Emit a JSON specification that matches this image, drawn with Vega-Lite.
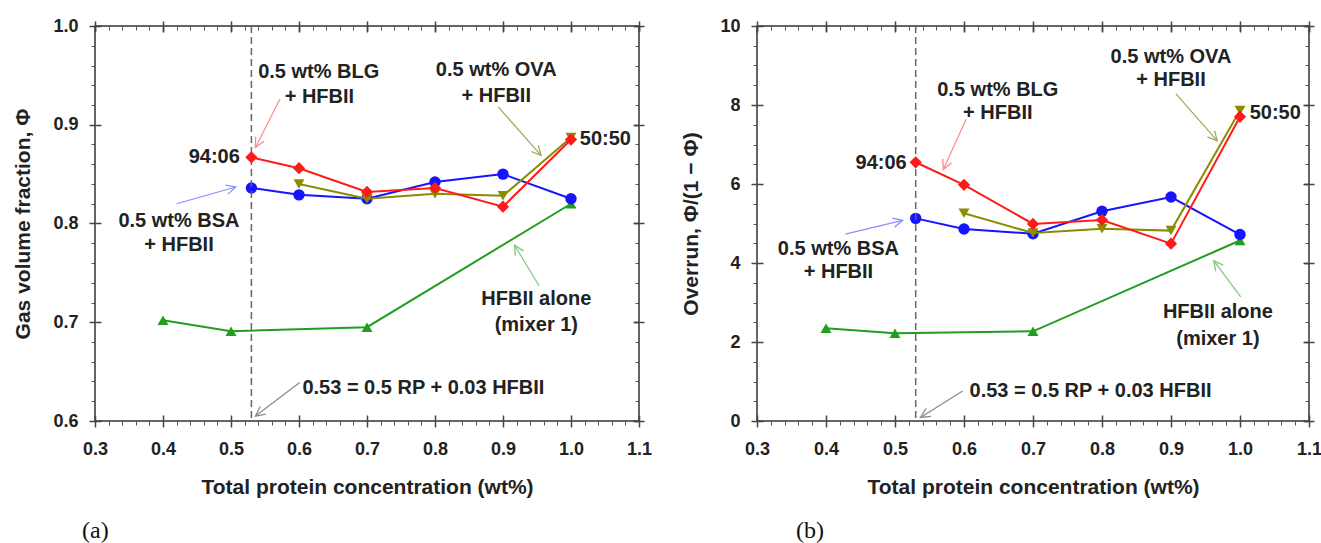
{
  "$schema": "https://vega.github.io/schema/vega-lite/v6.json",
  "padding": {"left": 12, "top": 16, "right": 0, "bottom": 0},
  "spacing": 27,
  "config": {"view": {"stroke": "#333", "strokeWidth": 1.5}, "axis": {"grid": false}},
  "datasets": {
    "guide": [{"c": 0.53}],
    "phi": [
      {"s": "HFBII", "c": 0.4, "v": 0.702}, {"s": "HFBII", "c": 0.5, "v": 0.691}, {"s": "HFBII", "c": 0.7, "v": 0.695}, {"s": "HFBII", "c": 1.0, "v": 0.820},
      {"s": "BSA", "c": 0.53, "v": 0.836}, {"s": "BSA", "c": 0.6, "v": 0.829}, {"s": "BSA", "c": 0.7, "v": 0.825}, {"s": "BSA", "c": 0.8, "v": 0.842}, {"s": "BSA", "c": 0.9, "v": 0.850}, {"s": "BSA", "c": 1.0, "v": 0.825},
      {"s": "OVA", "c": 0.6, "v": 0.840}, {"s": "OVA", "c": 0.7, "v": 0.825}, {"s": "OVA", "c": 0.8, "v": 0.830}, {"s": "OVA", "c": 0.9, "v": 0.828}, {"s": "OVA", "c": 1.0, "v": 0.887},
      {"s": "BLG", "c": 0.53, "v": 0.867}, {"s": "BLG", "c": 0.6, "v": 0.856}, {"s": "BLG", "c": 0.7, "v": 0.832}, {"s": "BLG", "c": 0.8, "v": 0.836}, {"s": "BLG", "c": 0.9, "v": 0.817}, {"s": "BLG", "c": 1.0, "v": 0.885}
    ],
    "ovr": [
      {"s": "HFBII", "c": 0.4, "v": 2.35}, {"s": "HFBII", "c": 0.5, "v": 2.22}, {"s": "HFBII", "c": 0.7, "v": 2.27}, {"s": "HFBII", "c": 1.0, "v": 4.57},
      {"s": "BSA", "c": 0.53, "v": 5.13}, {"s": "BSA", "c": 0.6, "v": 4.86}, {"s": "BSA", "c": 0.7, "v": 4.74}, {"s": "BSA", "c": 0.8, "v": 5.31}, {"s": "BSA", "c": 0.9, "v": 5.67}, {"s": "BSA", "c": 1.0, "v": 4.72},
      {"s": "OVA", "c": 0.6, "v": 5.26}, {"s": "OVA", "c": 0.7, "v": 4.76}, {"s": "OVA", "c": 0.8, "v": 4.87}, {"s": "OVA", "c": 0.9, "v": 4.82}, {"s": "OVA", "c": 1.0, "v": 7.86},
      {"s": "BLG", "c": 0.53, "v": 6.55}, {"s": "BLG", "c": 0.6, "v": 5.98}, {"s": "BLG", "c": 0.7, "v": 4.99}, {"s": "BLG", "c": 0.8, "v": 5.09}, {"s": "BLG", "c": 0.9, "v": 4.49}, {"s": "BLG", "c": 1.0, "v": 7.70}
    ],
    "notesPhi": [
      {"t": "0.5 wt% BLG", "x": 0.629, "y": 0.953, "pos": "c"},
      {"t": "+ HFBII", "x": 0.630, "y": 0.928, "pos": "c"},
      {"t": "0.5 wt% OVA", "x": 0.890, "y": 0.955, "pos": "c"},
      {"t": "+ HFBII", "x": 0.890, "y": 0.929, "pos": "c"},
      {"t": "0.5 wt% BSA", "x": 0.4235, "y": 0.803, "pos": "c"},
      {"t": "+ HFBII", "x": 0.4235, "y": 0.778, "pos": "c"},
      {"t": "HFBII alone", "x": 0.949, "y": 0.724, "pos": "c"},
      {"t": "(mixer 1)", "x": 0.949, "y": 0.697, "pos": "c"},
      {"t": "94:06", "x": 0.513, "y": 0.867, "pos": "r"},
      {"t": "50:50", "x": 1.013, "y": 0.886, "pos": "l"},
      {"t": "0.53 = 0.5 RP + 0.03 HFBII", "x": 0.605, "y": 0.633, "pos": "l"}
    ],
    "notesOvr": [
      {"t": "0.5 wt% BLG", "x": 0.649, "y": 8.37, "pos": "c"},
      {"t": "+ HFBII", "x": 0.649, "y": 7.81, "pos": "c"},
      {"t": "0.5 wt% OVA", "x": 0.900, "y": 9.22, "pos": "c"},
      {"t": "+ HFBII", "x": 0.900, "y": 8.63, "pos": "c"},
      {"t": "0.5 wt% BSA", "x": 0.418, "y": 4.35, "pos": "c"},
      {"t": "+ HFBII", "x": 0.418, "y": 3.76, "pos": "c"},
      {"t": "HFBII alone", "x": 0.968, "y": 2.76, "pos": "c"},
      {"t": "(mixer 1)", "x": 0.968, "y": 2.08, "pos": "c"},
      {"t": "94:06", "x": 0.517, "y": 6.54, "pos": "r"},
      {"t": "50:50", "x": 1.014, "y": 7.81, "pos": "l"},
      {"t": "0.53 = 0.5 RP + 0.03 HFBII", "x": 0.608, "y": 0.76, "pos": "l"}
    ],
    "arrowsPhi": [
      {"s": "BLG", "x": 0.572, "y": 0.926, "x2": 0.536, "y2": 0.877, "a": 117},
      {"s": "BSA", "x": 0.420, "y": 0.820, "x2": 0.507, "y2": 0.837, "a": -16},
      {"s": "OVA", "x": 0.893, "y": 0.918, "x2": 0.956, "y2": 0.869, "a": 48},
      {"s": "HFBII", "x": 0.953, "y": 0.737, "x2": 0.917, "y2": 0.778, "a": -121},
      {"s": "RP", "x": 0.601, "y": 0.639, "x2": 0.536, "y2": 0.605, "a": 143}
    ],
    "arrowsOvr": [
      {"s": "BLG", "x": 0.603, "y": 7.64, "x2": 0.570, "y2": 6.37, "a": 114},
      {"s": "BSA", "x": 0.428, "y": 4.73, "x2": 0.511, "y2": 5.08, "a": -14},
      {"s": "OVA", "x": 0.907, "y": 8.29, "x2": 0.967, "y2": 7.09, "a": 49},
      {"s": "HFBII", "x": 1.001, "y": 3.14, "x2": 0.962, "y2": 4.06, "a": -127},
      {"s": "RP", "x": 0.598, "y": 0.76, "x2": 0.537, "y2": 0.09, "a": 148}
    ]
  },
  "hconcat": [
    {
      "width": 544,
      "height": 395,
      "title": {"text": "(a)", "orient": "bottom", "anchor": "start", "frame": "group", "font": "Liberation Serif", "fontSize": 24, "fontWeight": "normal", "color": "#111", "dx": -13, "offset": 22},
      "resolve": {"axis": {"x": "independent", "y": "independent"}},
      "layer": [
        {
          "data": {"name": "phi"},
          "transform": [{"filter": "datum.s === 'HFBII'"}],
          "mark": {"type": "line", "color": "#1f9e1f", "strokeWidth": 2},
          "encoding": {
            "x": {"field": "c", "type": "quantitative", "scale": {"domain": [0.3, 1.1], "nice": false, "zero": false},
              "axis": {"orient": "bottom", "values": [0.3, 0.4, 0.5, 0.6, 0.7, 0.8, 0.9, 1.0, 1.1], "format": ".1f", "labelFont": "Liberation Sans", "labelFontWeight": "bold", "labelFontSize": 18, "labelColor": "#222", "labelPadding": 13, "labelFlush": false, "labelOverlap": false, "tickSize": 6, "tickColor": "#444", "tickWidth": 1.5, "domain": false, "grid": true, "gridColor": "#444", "gridWidth": 1.5, "gridDash": [6, 383, 6], "title": "Total protein concentration (wt%)", "titleFont": "Liberation Sans", "titleFontWeight": "bold", "titleFontSize": 21, "titleColor": "#222", "titlePadding": 18}},
            "y": {"field": "v", "type": "quantitative", "scale": {"domain": [0.6, 1.0], "nice": false, "zero": false},
              "axis": {"orient": "left", "values": [0.6, 0.7, 0.8, 0.9, 1.0], "format": ".1f", "labelFont": "Liberation Sans", "labelFontWeight": "bold", "labelFontSize": 18, "labelColor": "#222", "labelPadding": 11, "labelFlush": false, "labelOverlap": false, "tickSize": 6, "tickColor": "#444", "tickWidth": 1.5, "domain": false, "grid": true, "gridColor": "#444", "gridWidth": 1.5, "gridDash": [6, 532, 6], "title": "Gas volume fraction, Φ", "titleFont": "Liberation Sans", "titleFontWeight": "bold", "titleFontSize": 21, "titleColor": "#222", "titlePadding": 19}}
          }
        },
        {
          "data": {"name": "phi"},
          "transform": [{"filter": "datum.s === 'HFBII'"}],
          "mark": {"type": "point", "shape": "triangle-up", "filled": true, "opacity": 1, "color": "#1f9e1f", "size": 120},
          "encoding": {
            "x": {"field": "c", "type": "quantitative", "axis": {"orient": "bottom", "values": [0.32,0.34,0.36,0.38,0.42,0.44,0.46,0.48,0.52,0.54,0.56,0.58,0.62,0.64,0.66,0.68,0.72,0.74,0.76,0.78,0.82,0.84,0.86,0.88,0.92,0.94,0.96,0.98,1.02,1.04,1.06,1.08], "labels": false, "domain": false, "tickSize": 4, "tickColor": "#555", "title": null}},
            "y": {"field": "v", "type": "quantitative", "axis": {"orient": "left", "values": [0.62,0.64,0.66,0.68,0.72,0.74,0.76,0.78,0.82,0.84,0.86,0.88,0.92,0.94,0.96,0.98], "labels": false, "domain": false, "tickSize": 4, "tickColor": "#555", "title": null}}
          }
        },
        {
          "data": {"name": "phi"},
          "transform": [{"filter": "datum.s === 'BSA'"}],
          "mark": {"type": "line", "color": "#1515ff", "strokeWidth": 2},
          "encoding": {
            "x": {"field": "c", "type": "quantitative", "axis": {"orient": "top", "values": [0.3, 0.4, 0.5, 0.6, 0.7, 0.8, 0.9, 1.0, 1.1], "labels": false, "domain": false, "tickSize": 10, "offset": -5, "tickColor": "#444", "tickWidth": 1.5, "title": null}},
            "y": {"field": "v", "type": "quantitative", "axis": {"orient": "right", "values": [0.6, 0.7, 0.8, 0.9, 1.0], "labels": false, "domain": false, "tickSize": 10, "offset": -5, "tickColor": "#444", "tickWidth": 1.5, "title": null}}
          }
        },
        {
          "data": {"name": "phi"},
          "transform": [{"filter": "datum.s === 'BSA'"}],
          "mark": {"type": "point", "shape": "circle", "filled": true, "opacity": 1, "color": "#1515ff", "size": 130},
          "encoding": {
            "x": {"field": "c", "type": "quantitative", "axis": {"orient": "top", "values": [0.32,0.34,0.36,0.38,0.42,0.44,0.46,0.48,0.52,0.54,0.56,0.58,0.62,0.64,0.66,0.68,0.72,0.74,0.76,0.78,0.82,0.84,0.86,0.88,0.92,0.94,0.96,0.98,1.02,1.04,1.06,1.08], "labels": false, "domain": false, "tickSize": 4, "offset": -4, "tickColor": "#555", "title": null}},
            "y": {"field": "v", "type": "quantitative", "axis": {"orient": "right", "values": [0.62,0.64,0.66,0.68,0.72,0.74,0.76,0.78,0.82,0.84,0.86,0.88,0.92,0.94,0.96,0.98], "labels": false, "domain": false, "tickSize": 4, "offset": -4, "tickColor": "#555", "title": null}}
          }
        },
        {
          "data": {"name": "guide"},
          "mark": {"type": "rule", "color": "#666", "strokeWidth": 1.5, "strokeDash": [7, 4]},
          "encoding": {"x": {"field": "c", "type": "quantitative", "axis": null}}
        },
        {
          "data": {"name": "phi"},
          "transform": [{"filter": "datum.s === 'OVA'"}],
          "mark": {"type": "line", "color": "#8c8c00", "strokeWidth": 2},
          "encoding": {"x": {"field": "c", "type": "quantitative", "axis": null}, "y": {"field": "v", "type": "quantitative", "axis": null}}
        },
        {
          "data": {"name": "phi"},
          "transform": [{"filter": "datum.s === 'OVA'"}],
          "mark": {"type": "point", "shape": "triangle-down", "filled": true, "opacity": 1, "color": "#8c8c00", "size": 120},
          "encoding": {"x": {"field": "c", "type": "quantitative", "axis": null}, "y": {"field": "v", "type": "quantitative", "axis": null}}
        },
        {
          "data": {"name": "phi"},
          "transform": [{"filter": "datum.s === 'BLG'"}],
          "mark": {"type": "line", "color": "#ff1a1a", "strokeWidth": 2},
          "encoding": {"x": {"field": "c", "type": "quantitative", "axis": null}, "y": {"field": "v", "type": "quantitative", "axis": null}}
        },
        {
          "data": {"name": "phi"},
          "transform": [{"filter": "datum.s === 'BLG'"}],
          "mark": {"type": "point", "shape": "diamond", "filled": true, "opacity": 1, "color": "#ff1a1a", "size": 150},
          "encoding": {"x": {"field": "c", "type": "quantitative", "axis": null}, "y": {"field": "v", "type": "quantitative", "axis": null}}
        },
        {
          "data": {"name": "arrowsPhi"},
          "mark": {"type": "rule", "strokeWidth": 1.2},
          "encoding": {
            "x": {"field": "x", "type": "quantitative", "axis": null},
            "y": {"field": "y", "type": "quantitative", "axis": null},
            "x2": {"field": "x2"},
            "y2": {"field": "y2"},
            "color": {"field": "s", "type": "nominal", "legend": null, "scale": {"domain": ["BLG", "BSA", "OVA", "HFBII", "RP"], "range": ["#ff8a8a", "#8c8cff", "#a6a65a", "#7cc87c", "#8a8a8a"]}}
          }
        },
        {
          "data": {"name": "arrowsPhi"},
          "mark": {"type": "point", "shape": "M-1,-0.5L0,0L-1,0.5", "filled": false, "strokeWidth": 1.3, "size": 360, "opacity": 1},
          "encoding": {
            "x": {"field": "x2", "type": "quantitative", "axis": null},
            "y": {"field": "y2", "type": "quantitative", "axis": null},
            "angle": {"field": "a", "type": "quantitative", "scale": null},
            "color": {"field": "s", "type": "nominal", "legend": null}
          }
        },
        {
          "data": {"name": "notesPhi"},
          "transform": [{"filter": "datum.pos === 'c'"}],
          "mark": {"type": "text", "align": "center", "baseline": "middle", "font": "Liberation Sans", "fontWeight": "bold", "fontSize": 20, "color": "#222"},
          "encoding": {"x": {"field": "x", "type": "quantitative", "axis": null}, "y": {"field": "y", "type": "quantitative", "axis": null}, "text": {"field": "t"}}
        },
        {
          "data": {"name": "notesPhi"},
          "transform": [{"filter": "datum.pos === 'r'"}],
          "mark": {"type": "text", "align": "right", "baseline": "middle", "font": "Liberation Sans", "fontWeight": "bold", "fontSize": 20, "color": "#222"},
          "encoding": {"x": {"field": "x", "type": "quantitative", "axis": null}, "y": {"field": "y", "type": "quantitative", "axis": null}, "text": {"field": "t"}}
        },
        {
          "data": {"name": "notesPhi"},
          "transform": [{"filter": "datum.pos === 'l'"}],
          "mark": {"type": "text", "align": "left", "baseline": "middle", "font": "Liberation Sans", "fontWeight": "bold", "fontSize": 20, "color": "#222"},
          "encoding": {"x": {"field": "x", "type": "quantitative", "axis": null}, "y": {"field": "y", "type": "quantitative", "axis": null}, "text": {"field": "t"}}
        }
      ]
    },
    {
      "width": 552,
      "height": 395,
      "title": {"text": "(b)", "orient": "bottom", "anchor": "start", "frame": "group", "font": "Liberation Serif", "fontSize": 24, "fontWeight": "normal", "color": "#111", "dx": 39, "offset": 22},
      "resolve": {"axis": {"x": "independent", "y": "independent"}},
      "layer": [
        {
          "data": {"name": "ovr"},
          "transform": [{"filter": "datum.s === 'HFBII'"}],
          "mark": {"type": "line", "color": "#1f9e1f", "strokeWidth": 2},
          "encoding": {
            "x": {"field": "c", "type": "quantitative", "scale": {"domain": [0.3, 1.1], "nice": false, "zero": false},
              "axis": {"orient": "bottom", "values": [0.3, 0.4, 0.5, 0.6, 0.7, 0.8, 0.9, 1.0, 1.1], "format": ".1f", "labelFont": "Liberation Sans", "labelFontWeight": "bold", "labelFontSize": 18, "labelColor": "#222", "labelPadding": 13, "labelFlush": false, "labelOverlap": false, "tickSize": 6, "tickColor": "#444", "tickWidth": 1.5, "domain": false, "grid": true, "gridColor": "#444", "gridWidth": 1.5, "gridDash": [6, 383, 6], "title": "Total protein concentration (wt%)", "titleFont": "Liberation Sans", "titleFontWeight": "bold", "titleFontSize": 21, "titleColor": "#222", "titlePadding": 18}},
            "y": {"field": "v", "type": "quantitative", "scale": {"domain": [0, 10], "nice": false, "zero": false},
              "axis": {"orient": "left", "values": [0, 2, 4, 6, 8, 10], "format": "d", "labelFont": "Liberation Sans", "labelFontWeight": "bold", "labelFontSize": 18, "labelColor": "#222", "labelPadding": 11, "labelFlush": false, "labelOverlap": false, "tickSize": 6, "tickColor": "#444", "tickWidth": 1.5, "domain": false, "grid": true, "gridColor": "#444", "gridWidth": 1.5, "gridDash": [6, 540, 6], "title": "Overrun, Φ/(1 − Φ)", "titleFont": "Liberation Sans", "titleFontWeight": "bold", "titleFontSize": 21, "titleColor": "#222", "titlePadding": 18}}
          }
        },
        {
          "data": {"name": "ovr"},
          "transform": [{"filter": "datum.s === 'HFBII'"}],
          "mark": {"type": "point", "shape": "triangle-up", "filled": true, "opacity": 1, "color": "#1f9e1f", "size": 120},
          "encoding": {
            "x": {"field": "c", "type": "quantitative", "axis": {"orient": "bottom", "values": [0.32,0.34,0.36,0.38,0.42,0.44,0.46,0.48,0.52,0.54,0.56,0.58,0.62,0.64,0.66,0.68,0.72,0.74,0.76,0.78,0.82,0.84,0.86,0.88,0.92,0.94,0.96,0.98,1.02,1.04,1.06,1.08], "labels": false, "domain": false, "tickSize": 4, "tickColor": "#555", "title": null}},
            "y": {"field": "v", "type": "quantitative", "axis": {"orient": "left", "values": [0.5,1,1.5,2.5,3,3.5,4.5,5,5.5,6.5,7,7.5,8.5,9,9.5], "labels": false, "domain": false, "tickSize": 4, "tickColor": "#555", "title": null}}
          }
        },
        {
          "data": {"name": "ovr"},
          "transform": [{"filter": "datum.s === 'BSA'"}],
          "mark": {"type": "line", "color": "#1515ff", "strokeWidth": 2},
          "encoding": {
            "x": {"field": "c", "type": "quantitative", "axis": {"orient": "top", "values": [0.3, 0.4, 0.5, 0.6, 0.7, 0.8, 0.9, 1.0, 1.1], "labels": false, "domain": false, "tickSize": 10, "offset": -5, "tickColor": "#444", "tickWidth": 1.5, "title": null}},
            "y": {"field": "v", "type": "quantitative", "axis": {"orient": "right", "values": [0, 2, 4, 6, 8, 10], "labels": false, "domain": false, "tickSize": 10, "offset": -5, "tickColor": "#444", "tickWidth": 1.5, "title": null}}
          }
        },
        {
          "data": {"name": "ovr"},
          "transform": [{"filter": "datum.s === 'BSA'"}],
          "mark": {"type": "point", "shape": "circle", "filled": true, "opacity": 1, "color": "#1515ff", "size": 130},
          "encoding": {
            "x": {"field": "c", "type": "quantitative", "axis": {"orient": "top", "values": [0.32,0.34,0.36,0.38,0.42,0.44,0.46,0.48,0.52,0.54,0.56,0.58,0.62,0.64,0.66,0.68,0.72,0.74,0.76,0.78,0.82,0.84,0.86,0.88,0.92,0.94,0.96,0.98,1.02,1.04,1.06,1.08], "labels": false, "domain": false, "tickSize": 4, "offset": -4, "tickColor": "#555", "title": null}},
            "y": {"field": "v", "type": "quantitative", "axis": {"orient": "right", "values": [0.5,1,1.5,2.5,3,3.5,4.5,5,5.5,6.5,7,7.5,8.5,9,9.5], "labels": false, "domain": false, "tickSize": 4, "offset": -4, "tickColor": "#555", "title": null}}
          }
        },
        {
          "data": {"name": "guide"},
          "mark": {"type": "rule", "color": "#666", "strokeWidth": 1.5, "strokeDash": [7, 4]},
          "encoding": {"x": {"field": "c", "type": "quantitative", "axis": null}}
        },
        {
          "data": {"name": "ovr"},
          "transform": [{"filter": "datum.s === 'OVA'"}],
          "mark": {"type": "line", "color": "#8c8c00", "strokeWidth": 2},
          "encoding": {"x": {"field": "c", "type": "quantitative", "axis": null}, "y": {"field": "v", "type": "quantitative", "axis": null}}
        },
        {
          "data": {"name": "ovr"},
          "transform": [{"filter": "datum.s === 'OVA'"}],
          "mark": {"type": "point", "shape": "triangle-down", "filled": true, "opacity": 1, "color": "#8c8c00", "size": 120},
          "encoding": {"x": {"field": "c", "type": "quantitative", "axis": null}, "y": {"field": "v", "type": "quantitative", "axis": null}}
        },
        {
          "data": {"name": "ovr"},
          "transform": [{"filter": "datum.s === 'BLG'"}],
          "mark": {"type": "line", "color": "#ff1a1a", "strokeWidth": 2},
          "encoding": {"x": {"field": "c", "type": "quantitative", "axis": null}, "y": {"field": "v", "type": "quantitative", "axis": null}}
        },
        {
          "data": {"name": "ovr"},
          "transform": [{"filter": "datum.s === 'BLG'"}],
          "mark": {"type": "point", "shape": "diamond", "filled": true, "opacity": 1, "color": "#ff1a1a", "size": 150},
          "encoding": {"x": {"field": "c", "type": "quantitative", "axis": null}, "y": {"field": "v", "type": "quantitative", "axis": null}}
        },
        {
          "data": {"name": "arrowsOvr"},
          "mark": {"type": "rule", "strokeWidth": 1.2},
          "encoding": {
            "x": {"field": "x", "type": "quantitative", "axis": null},
            "y": {"field": "y", "type": "quantitative", "axis": null},
            "x2": {"field": "x2"},
            "y2": {"field": "y2"},
            "color": {"field": "s", "type": "nominal", "legend": null, "scale": {"domain": ["BLG", "BSA", "OVA", "HFBII", "RP"], "range": ["#ff8a8a", "#8c8cff", "#a6a65a", "#7cc87c", "#8a8a8a"]}}
          }
        },
        {
          "data": {"name": "arrowsOvr"},
          "mark": {"type": "point", "shape": "M-1,-0.5L0,0L-1,0.5", "filled": false, "strokeWidth": 1.3, "size": 360, "opacity": 1},
          "encoding": {
            "x": {"field": "x2", "type": "quantitative", "axis": null},
            "y": {"field": "y2", "type": "quantitative", "axis": null},
            "angle": {"field": "a", "type": "quantitative", "scale": null},
            "color": {"field": "s", "type": "nominal", "legend": null}
          }
        },
        {
          "data": {"name": "notesOvr"},
          "transform": [{"filter": "datum.pos === 'c'"}],
          "mark": {"type": "text", "align": "center", "baseline": "middle", "font": "Liberation Sans", "fontWeight": "bold", "fontSize": 20, "color": "#222"},
          "encoding": {"x": {"field": "x", "type": "quantitative", "axis": null}, "y": {"field": "y", "type": "quantitative", "axis": null}, "text": {"field": "t"}}
        },
        {
          "data": {"name": "notesOvr"},
          "transform": [{"filter": "datum.pos === 'r'"}],
          "mark": {"type": "text", "align": "right", "baseline": "middle", "font": "Liberation Sans", "fontWeight": "bold", "fontSize": 20, "color": "#222"},
          "encoding": {"x": {"field": "x", "type": "quantitative", "axis": null}, "y": {"field": "y", "type": "quantitative", "axis": null}, "text": {"field": "t"}}
        },
        {
          "data": {"name": "notesOvr"},
          "transform": [{"filter": "datum.pos === 'l'"}],
          "mark": {"type": "text", "align": "left", "baseline": "middle", "font": "Liberation Sans", "fontWeight": "bold", "fontSize": 20, "color": "#222"},
          "encoding": {"x": {"field": "x", "type": "quantitative", "axis": null}, "y": {"field": "y", "type": "quantitative", "axis": null}, "text": {"field": "t"}}
        }
      ]
    }
  ]
}
